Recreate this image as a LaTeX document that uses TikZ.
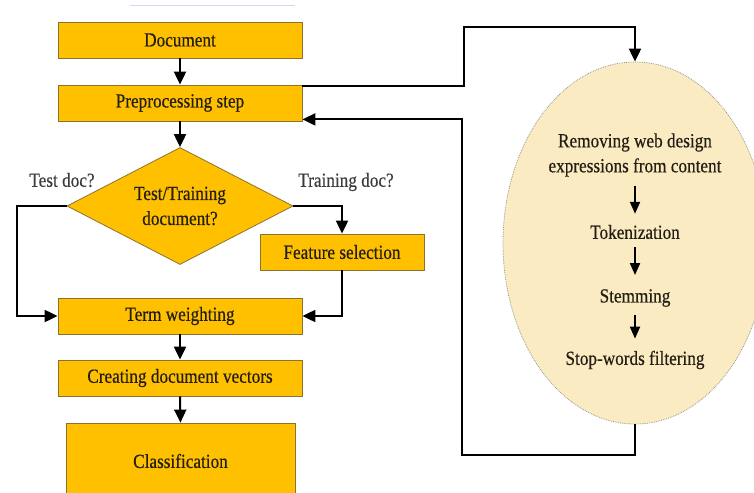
\documentclass[tikz,border=0pt]{standalone}
\usepackage{fontspec}
\setmainfont{Liberation Serif}[FakeStretch=0.86,FakeBold=0.4]
\usetikzlibrary{shapes.geometric,arrows.meta}
\definecolor{boxfill}{RGB}{255,192,0}
\definecolor{boxline}{RGB}{140,115,45}
\definecolor{ellfill}{RGB}{251,235,195}
\definecolor{ellline}{RGB}{150,150,140}
\definecolor{txt}{RGB}{35,30,20}
\begin{document}
\begin{tikzpicture}[x=1pt,y=-1pt,
  every node/.style={font=\fontsize{20}{25}\selectfont, text=txt},
  stepbox/.style={draw=boxline, line width=0.8pt, fill=boxfill, rectangle, minimum width=244pt, minimum height=36pt, inner sep=0pt},
  decide/.style={draw=boxline, line width=0.8pt, fill=boxfill, diamond, aspect=2, minimum width=226pt, minimum height=117pt, inner sep=0pt, align=center},
  arr/.style={line width=2pt, -{Triangle[length=13pt,width=12pt]}},
  small/.style={line width=2pt, -{Triangle[length=12pt,width=10pt]}},
  lbl/.style={text={rgb,255:red,60;green,60;blue,60}},
  intext/.style={align=center, inner sep=2pt}
]
\useasboundingbox (0,0) rectangle (754,492);
\clip (0,0) rectangle (754,492);
\draw[line width=1pt, color={rgb,255:red,220;green,212;blue,245}] (130,6) -- (295,6);

\node[stepbox] (doc) at (180,40) {Document};
\node[stepbox] (pre) at (180,103) {Preprocessing step};
\node[decide] (dec) at (180,206) {Test/Training\\document?};
\node[stepbox, minimum width=164pt] (feat) at (342,252) {Feature selection};
\node[stepbox] (term) at (180,316) {Term weighting};
\node[stepbox] (vec) at (180,378) {Creating document vectors};
\node[stepbox, minimum width=229pt, minimum height=76pt] (cls) at (180.5,461) {Classification};

\node[lbl] (ltest) at (62,180) {Test doc?};
\node[lbl] (ltrain) at (346,182) {Training doc?};

\node[ellipse, draw=ellline, densely dotted, line width=0.8pt, fill=ellfill, minimum width=264pt, minimum height=362pt, inner sep=0pt] (ell) at (635,243) {};
\node[intext] (rem) at (635,155) {Removing web design\\expressions from content};
\node[intext] (tok) at (635,232) {Tokenization};
\node[intext] (stem) at (635,298) {Stemming};
\node[intext] (stop) at (635,360) {Stop-words filtering};

\draw[small, shorten <=7pt, shorten >=9pt] (rem.south) -- (tok.north);
\draw[small, shorten <=6pt, shorten >=12pt] (tok.south) -- (stem.north);
\draw[small, shorten <=6pt, shorten >=10pt] (stem.south) -- (stop.north);

\draw[arr] (doc.south) -- (pre.north);
\draw[arr] (pre.south) -- (dec.north);
\draw[arr] (dec.west) -- ++(-50,0) |- (term.west);
\draw[arr] (dec.east) -| (feat.north);
\draw[arr] (feat.south) |- (term.east);
\draw[arr] (term.south) -- (vec.north);
\draw[arr] (vec.south) -- (cls.north);

\coordinate (tp) at (464,27);
\coordinate (bt) at (462,455);
\draw[arr] ([yshift=-1pt]pre.north east) -| (tp) -| (ell.north);
\draw[arr] (ell.south) |- (bt) |- ([yshift=2pt]pre.south east);
\end{tikzpicture}
\end{document}
